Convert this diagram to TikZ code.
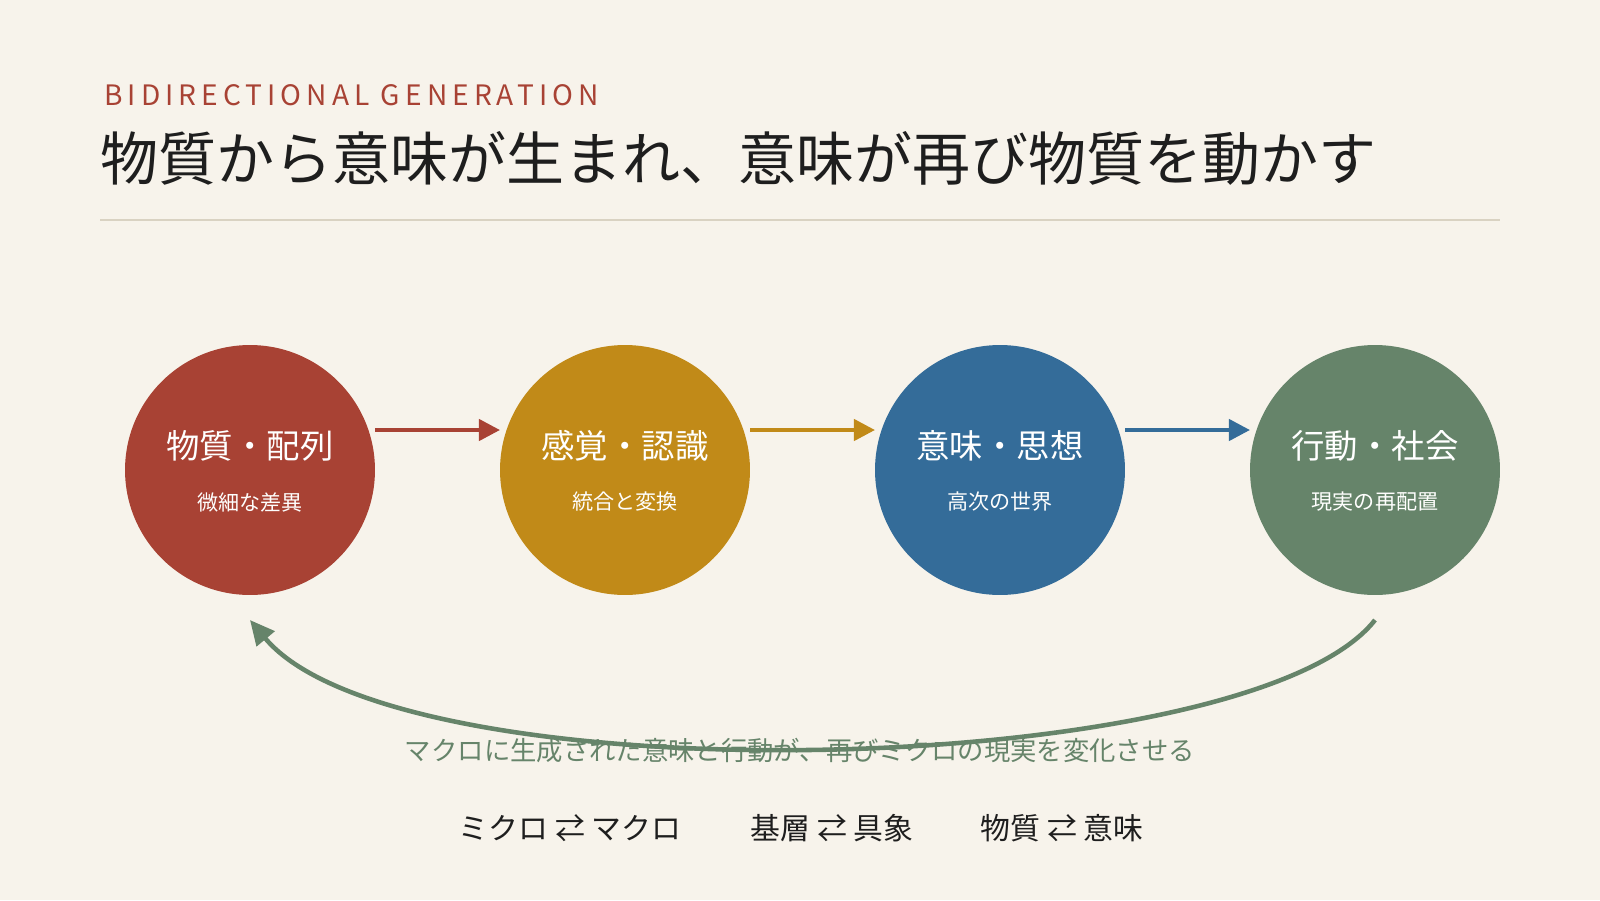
\documentclass[tikz,border=0pt]{standalone}
\usepackage{fontspec}
\setmainfont{Noto Sans CJK JP}
\newfontfamily\spacedfont[LetterSpace=18]{Noto Sans CJK JP}
\usetikzlibrary{arrows.meta}
\definecolor{bg}{HTML}{F7F3EB}
\definecolor{cred}{HTML}{A84234}
\definecolor{cgold}{HTML}{C18A18}
\definecolor{cblue}{HTML}{346C99}
\definecolor{cgreen}{HTML}{66846A}
\definecolor{rule}{HTML}{D9D2C2}
\definecolor{ink}{HTML}{1E1E1E}
\begin{document}
\begin{tikzpicture}[x=0.02cm,y=-0.02cm,
  stage/.style={circle,minimum size=5cm,inner sep=0pt},
  main/.style={text=white,font=\fontsize{19}{22}\selectfont},
  sub/.style={text=white!90!bg,font=\fontsize{12}{14}\selectfont},
  flow/.style={line width=2.4pt,-{Triangle[length=12pt,width=12pt]}}]
\fill[bg] (0,0) rectangle (1600,900);
\useasboundingbox (0,0) rectangle (1600,900);
\node[anchor=west,text=cred,font=\spacedfont\fontsize{16}{18}\selectfont] (sub) at (98,95) {BIDIRECTIONAL GENERATION};
\node[anchor=west,text=ink,font=\fontsize{33}{38}\selectfont] (title) at (94,158) {物質から意味が生まれ、意味が再び物質を動かす};
\draw[rule,line width=1pt] (100,220) coordinate (r1) -- (1500,220) coordinate (r2);
\foreach \n/\x/\c/\a/\b in {s1/250/cred/物質・配列/微細な差異, s2/625/cgold/感覚・認識/統合と変換, s3/1000/cblue/意味・思想/高次の世界, s4/1375/cgreen/行動・社会/現実の再配置}{
  \node[stage,fill=\c] (\n) at (\x,470) {};
  \node[main] (\n m) at (\x,446) {\a};
  \node[sub] (\n s) at (\x,502) {\b};
}
\draw[flow,cred] (s1.east|-0,430) ++(0,0) coordinate (a1) (375,430) -- (500,430);
\draw[flow,cgold] (750,430) -- (875,430);
\draw[flow,cblue] (1125,430) -- (1250,430);
\coordinate (c1) at (1375,620);
\coordinate (c2) at (250,620);
\draw[cgreen,line width=2.6pt,-{Triangle[length=14pt,width=13pt]}] (c1) .. controls (1250,780) and (400,800) .. (c2);
\node[text=cgreen,font=\fontsize{15}{18}\selectfont] (cap) at (800,750) {マクロに生成された意味と行動が、再びミクロの現実を変化させる};
\node[text=ink,font=\fontsize{17}{20}\selectfont] (b1) at (570,828) {ミクロ ⇄ マクロ};
\node[text=ink,font=\fontsize{17}{20}\selectfont] (b2) at (832,828) {基層 ⇄ 具象};
\node[text=ink,font=\fontsize{17}{20}\selectfont] (b3) at (1062,828) {物質 ⇄ 意味};
\end{tikzpicture}
\end{document}
